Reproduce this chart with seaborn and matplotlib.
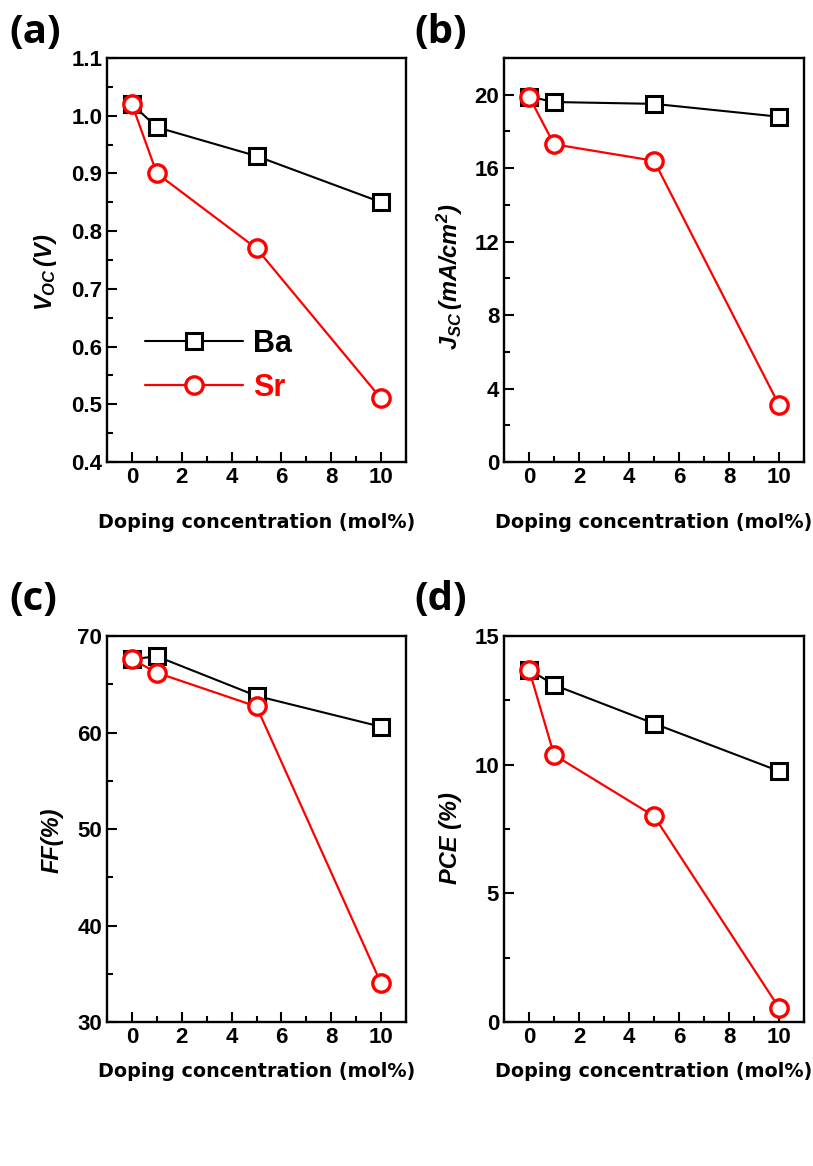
import matplotlib
matplotlib.use("Agg")
import matplotlib.pyplot as plt
import seaborn as sns
from matplotlib.ticker import MultipleLocator, FormatStrFormatter

sns.set_style("ticks")
plt.rcParams['font.family'] = ['Liberation Sans', 'DejaVu Sans']
plt.rcParams['font.weight'] = 'bold'
plt.rcParams['text.color'] = 'black'
plt.rcParams['axes.labelcolor'] = 'black'
plt.rcParams['xtick.color'] = 'black'
plt.rcParams['ytick.color'] = 'black'
plt.rcParams['mathtext.fontset'] = 'custom'
plt.rcParams['mathtext.it'] = 'Liberation Sans:italic:bold'
plt.rcParams['mathtext.rm'] = 'Liberation Sans:italic:bold'
plt.rcParams['mathtext.bf'] = 'Liberation Sans:bold'

# doping concentration (mol%)
doping = [0, 1, 5, 10]

voc_ba = [1.02, 0.98, 0.93, 0.85]
voc_sr = [1.02, 0.90, 0.77, 0.51]

jsc_ba = [19.9, 19.6, 19.5, 18.8]
jsc_sr = [19.9, 17.3, 16.4, 3.1]

ff_ba = [67.6, 67.9, 63.8, 60.6]
ff_sr = [67.6, 66.2, 62.7, 34.0]

pce_ba = [13.7, 13.1, 11.6, 9.75]
pce_sr = [13.7, 10.38, 8.0, 0.55]

panels = [
    ("(a)", voc_ba, voc_sr, r"$V_{OC}\,(V)$", (0.4, 1.1), 0.1, 0.05),
    ("(b)", jsc_ba, jsc_sr, r"$J_{SC}\,(mA/cm^2)$", (0, 22), 4, 2),
    ("(c)", ff_ba, ff_sr, "FF(%)", (30, 70), 10, 5),
    ("(d)", pce_ba, pce_sr, "PCE (%)", (0, 15), 5, 2.5),
]

# axes boxes [left, bottom, width, height] in figure fraction
boxes = [
    [0.1316, 0.6038, 0.3678, 0.3465],
    [0.6200, 0.6038, 0.3690, 0.3465],
    [0.1316, 0.1235, 0.3678, 0.3310],
    [0.6200, 0.1235, 0.3690, 0.3310],
]
letter_pos = [(0.012, 0.972), (0.510, 0.972), (0.012, 0.486), (0.510, 0.486)]
ylab_pos = [(-0.207, 0.47), (-0.18, 0.458), (-0.184, 0.47), (-0.18, 0.477)]
xlab_off = [-0.149, -0.149, -0.127, -0.127]

fig = plt.figure(figsize=(8.13, 11.66), dpi=100)

for i, (letter, ba, sr, ylab, ylim, major, minor) in enumerate(panels):
    ax = fig.add_axes(boxes[i])
    sns.lineplot(x=doping, y=ba, ax=ax, color='black', lw=1.5, marker='s',
                 markersize=11.5, markerfacecolor='white', markeredgecolor='black',
                 markeredgewidth=2.2, label='Ba')
    sns.lineplot(x=doping, y=sr, ax=ax, color='red', lw=1.6, marker='o',
                 markersize=12.5, markerfacecolor='white', markeredgecolor='red',
                 markeredgewidth=2.4, label='Sr')
    ax.set_xlim(-1, 11)
    ax.set_ylim(*ylim)
    ax.xaxis.set_major_locator(MultipleLocator(2))
    ax.xaxis.set_minor_locator(MultipleLocator(1))
    ax.yaxis.set_major_locator(MultipleLocator(major))
    ax.yaxis.set_minor_locator(MultipleLocator(minor))
    if i == 0:
        ax.yaxis.set_major_formatter(FormatStrFormatter('%.1f'))
    ax.tick_params(which='both', direction='in', width=1.5, labelsize=16)
    ax.tick_params(which='major', length=7)
    ax.tick_params(which='minor', length=4)
    for s in ax.spines.values():
        s.set_linewidth(1.7)
        s.set_color('black')

    ax.set_xlabel("Doping concentration (mol%)", fontsize=13.8,
                  family='DejaVu Sans', fontweight='bold')
    ax.xaxis.set_label_coords(0.5, xlab_off[i])
    ax.xaxis.label.set_va('center')
    ax.set_ylabel(ylab, fontsize=17, fontstyle='italic', fontweight='bold')
    ax.yaxis.set_label_coords(*ylab_pos[i])
    ax.yaxis.label.set_va('center')
    ax.yaxis.label.set_ha('center')

    if i == 0:
        ax.legend(loc='center left', bbox_to_anchor=(0.127, 0.238), frameon=False,
                  prop={'weight': 'bold', 'size': 22}, labelcolor='linecolor',
                  handlelength=3.2, handletextpad=0.35, borderpad=0,
                  borderaxespad=0, labelspacing=0.45)
    else:
        ax.get_legend().remove()

    fig.text(letter_pos[i][0], letter_pos[i][1], letter, fontsize=29,
             family='Open Sans', fontweight='bold', va='center', ha='left')

fig.savefig("out.png", dpi=100)
